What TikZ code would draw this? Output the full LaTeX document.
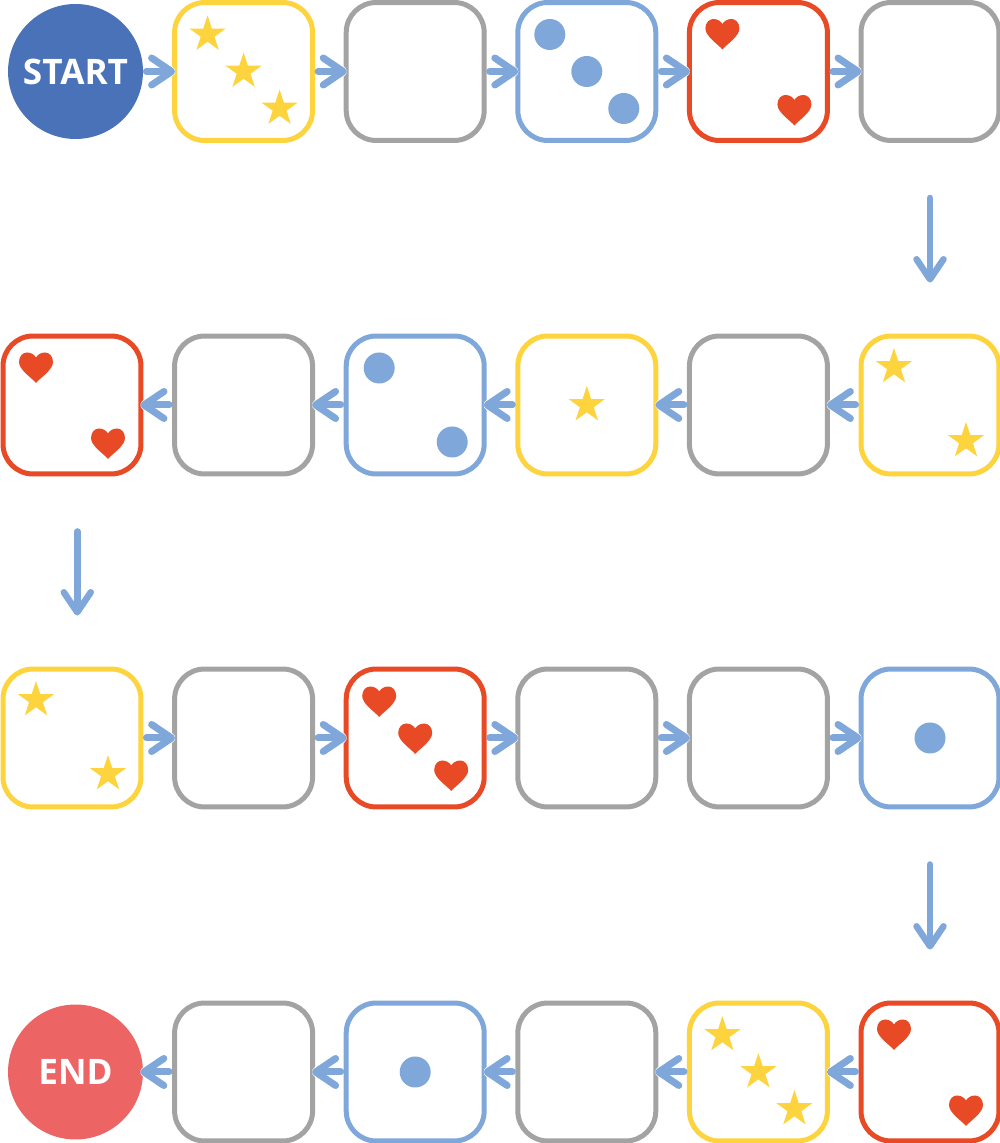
\documentclass[tikz,border=0pt]{standalone}
\usepackage{fontspec}
\setmainfont{Open Sans}
\usetikzlibrary{arrows.meta}

\definecolor{startblue}{HTML}{4A72B8}
\definecolor{endred}{HTML}{EC6464}
\definecolor{linkblue}{HTML}{7FA7DA}
\definecolor{cellyellow}{HTML}{FDD43E}
\definecolor{cellgray}{HTML}{A3A3A3}
\definecolor{cellred}{HTML}{E84A25}
\definecolor{cellblue}{HTML}{7FA7DA}

\tikzstyle{cell} = [draw, fill=white, line width=0.1cm, rectangle,
  rounded corners=0.6cm, minimum size=2.76cm, inner sep=0pt]
\tikzstyle{yellowcell} = [cell, draw=cellyellow]
\tikzstyle{graycell} = [cell, draw=cellgray]
\tikzstyle{redcell} = [cell, draw=cellred]
\tikzstyle{bluecell} = [cell, draw=cellblue]
\tikzstyle{terminal} = [circle, minimum size=2.7cm, inner sep=0pt,
  text=white, font=\bfseries\fontsize{20}{24}\selectfont]
\tikzstyle{link} = [draw=linkblue, line width=0.14cm, line cap=round,
  -{Straight Barb[length=0.4cm,width=0.54cm,round]},
  preaction={draw=white, line width=0.22cm},
  shorten <=0.06cm, shorten >=-0.06cm]
\tikzstyle{drop} = [draw=linkblue, line width=0.13cm, line cap=round,
  -{Straight Barb[length=0.4cm,width=0.54cm,round]},
  shorten <=1.1cm, shorten >=1.02cm]

\tikzset{
  starmark/.pic={\fill[cellyellow] (90:19) -- (126:7.3) -- (162:19) -- (198:7.3)
    -- (234:19) -- (270:7.3) -- (306:19) -- (342:7.3) -- (18:19) -- (54:7.3) -- cycle;},
  dotmark/.pic={\fill[cellblue] (0,0) circle[radius=15.5];},
  heartmark/.pic={\fill[cellred] (0,-16) .. controls (-4,-11) and (-17,-3) .. (-17,5)
    .. controls (-17,11) and (-13,14.5) .. (-9,14.5)
    .. controls (-4.5,14.5) and (-1.5,12) .. (0,9.5)
    .. controls (1.5,12) and (4.5,14.5) .. (9,14.5)
    .. controls (13,14.5) and (17,11) .. (17,5)
    .. controls (17,-3) and (4,-11) .. (0,-16) -- cycle;}
}

\begin{document}
\begin{tikzpicture}[x=0.02cm, y=0.02cm]
        \useasboundingbox (0,0) rectangle (1000,1143);

        \node [terminal, fill=startblue] (start) at ( 75.5,1071.5) {START};
        \node [yellowcell] (sq1)   at (243.6,1071.5) {};
        \node [graycell]   (sq2)   at (415.2,1071.5) {};
        \node [bluecell]   (sq3)   at (586.8,1071.5) {};
        \node [redcell]    (sq4)   at (758.4,1071.5) {};
        \node [graycell]   (sq5)   at (930.0,1071.5) {};

        \node [yellowcell] (sq6)   at (930.0, 738) {};
        \node [graycell]   (sq7)   at (758.4, 738) {};
        \node [yellowcell] (sq8)   at (586.8, 738) {};
        \node [bluecell]   (sq9)   at (415.2, 738) {};
        \node [graycell]   (sq10)  at (243.6, 738) {};
        \node [redcell]    (sq11)  at ( 72.0, 738) {};

        \node [yellowcell] (sq12)  at ( 72.0, 405) {};
        \node [graycell]   (sq13)  at (243.6, 405) {};
        \node [redcell]    (sq14)  at (415.2, 405) {};
        \node [graycell]   (sq15)  at (586.8, 405) {};
        \node [graycell]   (sq16)  at (758.4, 405) {};
        \node [bluecell]   (sq17)  at (930.0, 405) {};

        \node [redcell]    (sq18)  at (930.0,  71) {};
        \node [yellowcell] (sq19)  at (758.4,  71) {};
        \node [graycell]   (sq20)  at (586.8,  71) {};
        \node [bluecell]   (sq21)  at (415.2,  71) {};
        \node [graycell]   (sq22)  at (243.6,  71) {};
        \node [terminal, fill=endred] (end) at ( 75.5,  71) {END};

        \pic at ([shift={(-36,37)}]sq1.center)  {starmark};
        \pic at (sq1.center)                    {starmark};
        \pic at ([shift={(36,-37)}]sq1.center)  {starmark};
        \pic at ([shift={(-37,37)}]sq3.center)  {dotmark};
        \pic at (sq3.center)                    {dotmark};
        \pic at ([shift={(37,-37)}]sq3.center)  {dotmark};
        \pic at ([shift={(-36,38)}]sq4.center)  {heartmark};
        \pic at ([shift={(36,-38)}]sq4.center)  {heartmark};

        \pic at ([shift={(-36,38)}]sq6.center)  {starmark};
        \pic at ([shift={(36,-36)}]sq6.center)  {starmark};
        \pic at (sq8.center)                    {starmark};
        \pic at ([shift={(-36,37)}]sq9.center)  {dotmark};
        \pic at ([shift={(37,-37)}]sq9.center)  {dotmark};
        \pic at ([shift={(-36,38)}]sq11.center) {heartmark};
        \pic at ([shift={(36,-38)}]sq11.center) {heartmark};

        \pic at ([shift={(-36,38)}]sq12.center) {starmark};
        \pic at ([shift={(36,-36)}]sq12.center) {starmark};
        \pic at ([shift={(-36,37)}]sq14.center) {heartmark};
        \pic at (sq14.center)                   {heartmark};
        \pic at ([shift={(36,-37)}]sq14.center) {heartmark};
        \pic at (sq17.center)                   {dotmark};

        \pic at ([shift={(-36,38)}]sq18.center) {heartmark};
        \pic at ([shift={(36,-38)}]sq18.center) {heartmark};
        \pic at ([shift={(-36,37)}]sq19.center) {starmark};
        \pic at (sq19.center)                   {starmark};
        \pic at ([shift={(36,-37)}]sq19.center) {starmark};
        \pic at (sq21.center)                   {dotmark};

        \draw[link] (start.east) -- (sq1.west);
        \draw[link] (sq1.east) -- (sq2.west);
        \draw[link] (sq2.east) -- (sq3.west);
        \draw[link] (sq3.east) -- (sq4.west);
        \draw[link] (sq4.east) -- (sq5.west);
        \draw[drop] (sq5.south) -- (sq6.north);
        \draw[link] (sq6.west) -- (sq7.east);
        \draw[link] (sq7.west) -- (sq8.east);
        \draw[link] (sq8.west) -- (sq9.east);
        \draw[link] (sq9.west) -- (sq10.east);
        \draw[link] (sq10.west) -- (sq11.east);
        \draw[drop] ([xshift=3]sq11.south) -- ([xshift=3]sq12.north);
        \draw[link] (sq12.east) -- (sq13.west);
        \draw[link] (sq13.east) -- (sq14.west);
        \draw[link] (sq14.east) -- (sq15.west);
        \draw[link] (sq15.east) -- (sq16.west);
        \draw[link] (sq16.east) -- (sq17.west);
        \draw[drop] (sq17.south) -- (sq18.north);
        \draw[link] (sq18.west) -- (sq19.east);
        \draw[link] (sq19.west) -- (sq20.east);
        \draw[link] (sq20.west) -- (sq21.east);
        \draw[link] (sq21.west) -- (sq22.east);
        \draw[link] (sq22.west) -- (end.east);
      \end{tikzpicture}
\end{document}
